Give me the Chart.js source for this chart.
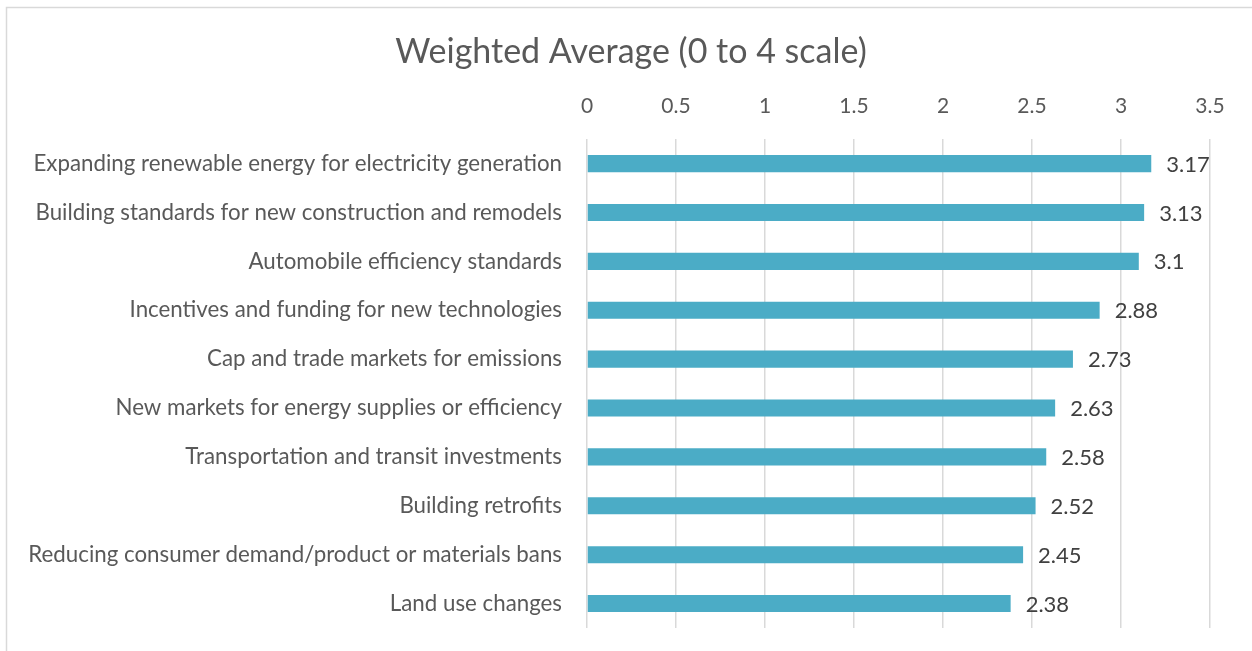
<!DOCTYPE html>
<html>
<head>
<meta charset="utf-8">
<script src="https://cdn.jsdelivr.net/npm/chart.js@4"></script>
<style>
  html, body { margin: 0; padding: 0; background: #fff; }
  #wrap { width: 1252px; height: 651px; }
</style>
</head>
<body>
<div id="wrap"><canvas id="barChart" width="1252" height="651"></canvas></div>
<script>
// Chart data
const categories = [
    'Expanding renewable energy for electricity generation',
    'Building standards for new construction and remodels',
    'Automobile efficiency standards',
    'Incentives and funding for new technologies',
    'Cap and trade markets for emissions',
    'New markets for energy supplies or efficiency',
    'Transportation and transit investments',
    'Building retrofits',
    'Reducing consumer demand/product or materials bans',
    'Land use changes'
];
const weightedAverage = [3.17, 3.13, 3.1, 2.88, 2.73, 2.63, 2.58, 2.52, 2.45, 2.38];
const tickValues = [0, 0.5, 1, 1.5, 2, 2.5, 3, 3.5];
const chartTitle = 'Weighted Average (0 to 4 scale)';

const fontFamily = 'Lato, "Open Sans", sans-serif';

// value labels to the right of each bar
const valueLabels = {
    id: 'valueLabels',
    afterDatasetsDraw(chart) {
        const ctx = chart.ctx;
        const meta = chart.getDatasetMeta(0);
        ctx.save();
        ctx.font = '22px ' + fontFamily;
        ctx.fillStyle = '#404040';
        ctx.textAlign = 'left';
        ctx.textBaseline = 'middle';
        meta.data.forEach((bar, i) => {
            ctx.fillText(String(chart.data.datasets[0].data[i]), bar.x + 15, bar.y + 1);
        });
        ctx.restore();
    }
};

// frame on top/left plus the title, centred on the whole picture
const frame = {
    id: 'frame',
    beforeDraw(chart) {
        const ctx = chart.ctx;
        ctx.save();
        ctx.fillStyle = '#ffffff';
        ctx.fillRect(0, 0, chart.width, chart.height);
        ctx.strokeStyle = '#d9d9d9';
        ctx.lineWidth = 1.5;
        ctx.beginPath();
        ctx.moveTo(6.5, chart.height);
        ctx.lineTo(6.5, 7.5);
        ctx.lineTo(chart.width, 7.5);
        ctx.stroke();

        ctx.font = '34px ' + fontFamily;
        ctx.fillStyle = '#595959';
        ctx.textAlign = 'center';
        ctx.textBaseline = 'middle';
        ctx.fillText(chartTitle, 631, 52);
        ctx.restore();
    }
};

const barChartCtx = document.getElementById('barChart').getContext('2d');
const barChart = new Chart(barChartCtx, {
    type: 'bar',
    data: {
        labels: categories,
        datasets: [{
            label: 'Weighted Average',
            data: weightedAverage,
            backgroundColor: '#4BACC6',
            borderWidth: 0,
            barPercentage: 0.35,
            categoryPercentage: 1
        }]
    },
    options: {
        indexAxis: 'y',
        responsive: false,
        animation: false,
        layout: {
            padding: { top: 74, right: 42, bottom: 23, left: 10 }
        },
        scales: {
            x: {
                position: 'top',
                min: 0,
                max: 3.5,
                afterBuildTicks(scale) {
                    scale.ticks = tickValues.map(v => ({ value: v }));
                },
                ticks: {
                    color: '#595959',
                    font: { family: fontFamily, size: 21 },
                    padding: 20,
                    callback: v => String(v)
                },
                grid: {
                    color: '#d9d9d9',
                    lineWidth: 1.5,
                    drawTicks: false
                },
                border: { display: false }
            },
            y: {
                afterFit(scale) {
                    scale.width = 587 - 10;
                    scale.paddingTop = 0;
                    scale.paddingBottom = 0;
                },
                ticks: {
                    color: '#595959',
                    font: { family: fontFamily, size: 22.3 },
                    padding: 17
                },
                grid: { display: false },
                border: { display: false }
            }
        },
        plugins: {
            legend: { display: false },
            tooltip: { enabled: false },
            title: { display: false }
        }
    },
    plugins: [frame, valueLabels]
});
</script>
</body>
</html>
